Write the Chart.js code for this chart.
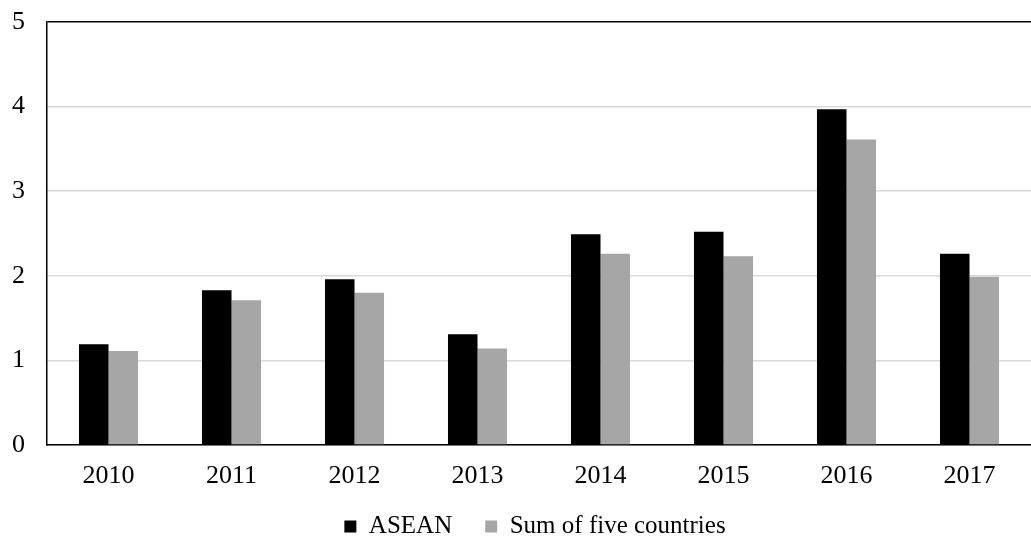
<!DOCTYPE html>
<html>
<head>
<meta charset="utf-8">
<script src="https://cdn.jsdelivr.net/npm/chart.js@4"></script>
<style>
    html, body { margin: 0; padding: 0; background: #fff; }
    #wrap { width: 1031px; height: 539px; }
</style>
</head>
<body>
<div id="wrap"><canvas id="chart"></canvas></div>
<script>
const years = ['2010', '2011', '2012', '2013', '2014', '2015', '2016', '2017'];
const asean = [1.19, 1.83, 1.96, 1.31, 2.49, 2.52, 3.97, 2.26];
const fiveCountries = [1.11, 1.71, 1.80, 1.14, 2.26, 2.23, 3.61, 1.99];
const yTicks = [0, 1, 2, 3, 4, 5];

const serif = 'Liberation Serif';

// legend sits closer to the axis labels than its own padding allows
const legendShift = {
    id: 'legendShift',
    afterLayout(chart) {
        const lg = chart.legend;
        const h = lg.bottom - lg.top;
        lg.top = chart.chartArea.bottom + 36;
        lg.bottom = lg.top + h;
        lg.left -= 4;
        lg.right -= 4;
    }
};

new Chart(document.getElementById('chart').getContext('2d'), {
    type: 'bar',
    data: {
        labels: years,
        datasets: [{
            label: 'ASEAN',
            data: asean,
            backgroundColor: '#000000',
            borderWidth: 0,
        }, {
            label: 'Sum of five countries',
            data: fiveCountries,
            backgroundColor: '#a6a6a6',
            borderWidth: 0,
        }]
    },
    plugins: [legendShift],
    options: {
        responsive: true,
        maintainAspectRatio: false,
        animation: false,
        layout: { padding: { top: 22, right: 0, left: 0, bottom: -34 } },
        datasets: {
            bar: { barPercentage: 1, categoryPercentage: 0.48 }
        },
        plugins: {
            tooltip: { enabled: false },
            legend: {
                position: 'bottom',
                fullSize: false,
                labels: {
                    color: '#000',
                    boxWidth: 12,
                    boxHeight: 12,
                    padding: 33,
                    font: { family: serif, size: 25 }
                }
            }
        },
        scales: {
            x: {
                grid: { display: false, drawTicks: false },
                border: { display: true, color: '#000', width: 1.5 },
                ticks: {
                    color: '#000',
                    padding: 16,
                    font: { family: serif, size: 26 }
                },
                afterFit: (scale) => {
                    scale.height = 60;
                    scale.paddingLeft = 0;
                    scale.paddingRight = 0;
                }
            },
            y: {
                min: 0,
                max: 5,
                afterBuildTicks: (scale) => {
                    scale.ticks = yTicks.map(v => ({ value: v }));
                },
                grid: {
                    drawTicks: false,
                    lineWidth: 1.5,
                    color: (ctx) => ctx.tick && ctx.tick.value === 5 ? '#000' : '#d9d9d9'
                },
                border: { display: true, color: '#000', width: 1.5 },
                ticks: {
                    color: '#000',
                    padding: 22,
                    font: { family: serif, size: 26 }
                },
                afterFit: (scale) => {
                    scale.width = 47;
                    scale.paddingTop = 0;
                    scale.paddingBottom = 0;
                }
            }
        }
    }
});
</script>
</body>
</html>
